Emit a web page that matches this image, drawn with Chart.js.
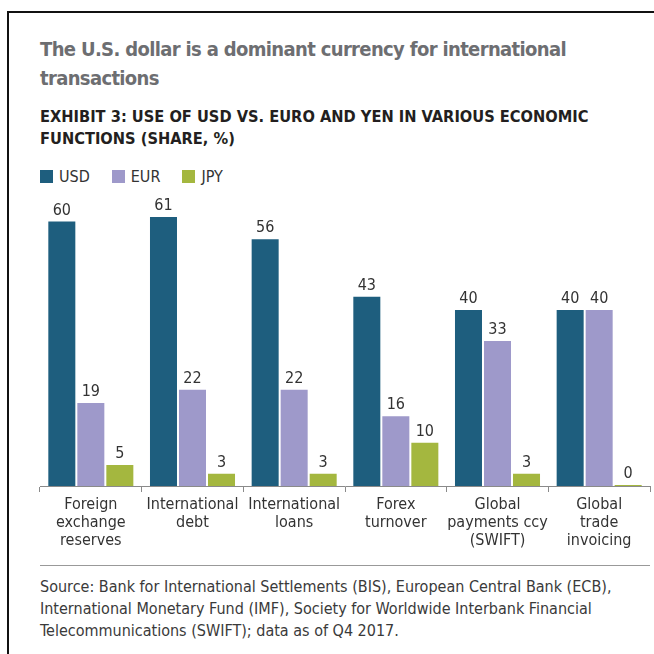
<!DOCTYPE html>
<html>
<head>
<meta charset="utf-8">
<script src="https://cdn.jsdelivr.net/npm/chart.js@4"></script>
<style>
  html, body { margin: 0; padding: 0; background: #fff; }
  body { width: 654px; height: 654px; position: relative; overflow: hidden;
         font-family: 'DejaVu Sans Condensed', 'Liberation Sans Narrow', 'Roboto', sans-serif; }
  .frame { position: absolute; left: 7px; top: 11px; right: -2px; bottom: -2px;
           border-left: 2px solid #111; border-top: 2px solid #111; }
  .title { position: absolute; left: 40px; top: 35px; width: 610px; white-space: nowrap;
           font-size: 20px; letter-spacing: -0.65px; font-weight: bold; color: #6d6e71; line-height: 29px; }
  .sub { position: absolute; left: 40px; top: 106px; width: 610px;
         font-size: 16.3px; font-weight: bold; color: #231f20; line-height: 22px; }
  .legend { position: absolute; left: 40px; top: 166px; font-size: 16px; color: #333; }
  .legend span { display: inline-block; vertical-align: middle; }
  .legend .sw { width: 13px; height: 13px; margin-right: 6px; }
  .legend .lb { margin-right: 22px; }
  .rule { position: absolute; left: 40px; right: 4px; top: 565px; border-top: 1px solid #999; }
  .note { position: absolute; left: 40px; top: 576px; width: 610px;
          font-size: 16px; color: #3a3a3a; line-height: 22px; }
  #wrap { position: absolute; left: 0; top: 180px; width: 654px; height: 380px; }
</style>
</head>
<body>
<div class="frame"></div>
<div class="title">The U.S. dollar is a dominant currency for international<br>transactions</div>
<div class="sub">EXHIBIT 3: USE OF USD VS. EURO AND YEN IN VARIOUS ECONOMIC FUNCTIONS (SHARE, %)</div>
<div class="legend" id="legend"></div>
<div id="wrap"><canvas id="chart"></canvas></div>
<div class="rule"></div>
<div class="note">Source: Bank for International Settlements (BIS), European Central Bank (ECB), International Monetary Fund (IMF), Society for Worldwide Interbank Financial Telecommunications (SWIFT); data as of Q4 2017.</div>

<script>
// data
const categories = [
    ['Foreign', 'exchange', 'reserves'],
    ['International', 'debt'],
    ['International', 'loans'],
    ['Forex', 'turnover'],
    ['Global', 'payments ccy', '(SWIFT)'],
    ['Global', 'trade', 'invoicing']
];
const usd = [60, 61, 56, 43, 40, 40];
const eur = [19, 22, 22, 16, 33, 40];
const jpy = [5, 3, 3, 10, 3, 0];

const seriesNames = ['USD', 'EUR', 'JPY'];
const seriesColors = ['#1e5e7e', '#9e99ca', '#a4b73f'];

const FONT = "'DejaVu Sans Condensed', 'Liberation Sans Narrow', 'Roboto', sans-serif";

// html legend
const lg = document.getElementById('legend');
seriesNames.forEach(function(n, i) {
    lg.innerHTML += '<span class="sw" style="background:' + seriesColors[i] + '"></span>' +
                    '<span class="lb">' + n + '</span>';
});

// value labels above the bars
const barLabels = {
    id: 'barLabels',
    afterDatasetsDraw(chart) {
        const c = chart.ctx;
        c.save();
        c.font = '16px ' + FONT;
        c.fillStyle = '#333';
        c.textAlign = 'center';
        c.textBaseline = 'bottom';
        chart.data.datasets.forEach(function(ds, i) {
            chart.getDatasetMeta(i).data.forEach(function(bar, j) {
                c.fillText(ds.data[j], bar.x, bar.y - 2);
            });
        });
        c.restore();
    }
};

const ctx = document.getElementById('chart').getContext('2d');
const myChart = new Chart(ctx, {
    type: 'bar',
    data: {
        labels: categories,
        datasets: [
            { label: 'USD', data: usd, backgroundColor: seriesColors[0] },
            { label: 'EUR', data: eur, backgroundColor: seriesColors[1] },
            { label: 'JPY', data: jpy, backgroundColor: seriesColors[2], minBarLength: 2 }
        ]
    },
    options: {
        responsive: true,
        maintainAspectRatio: false,
        animation: false,
        datasets: {
            bar: {
                categoryPercentage: 0.856,
                barPercentage: 1,
                borderWidth: 1,
                borderColor: 'rgba(255,255,255,0.35)'
            }
        },
        layout: { padding: { top: 14, left: 40, right: 4, bottom: 4 } },
        scales: {
            y: { display: false, min: 0, max: 66 },
            x: {
                afterFit(scale) { scale.height = 70; },
                border: { display: true, color: '#8a8a8a', width: 1 },
                grid: { drawOnChartArea: false, drawTicks: true, tickLength: 6, color: '#8a8a8a' },
                ticks: {
                    padding: 4,
                    maxRotation: 0,
                    autoSkip: false,
                    color: '#333',
                    font: { family: FONT, size: 16, lineHeight: 1.125 }
                }
            }
        },
        plugins: {
            legend: { display: false },
            tooltip: { enabled: false }
        }
    },
    plugins: [barLabels]
});
</script>
</body>
</html>
